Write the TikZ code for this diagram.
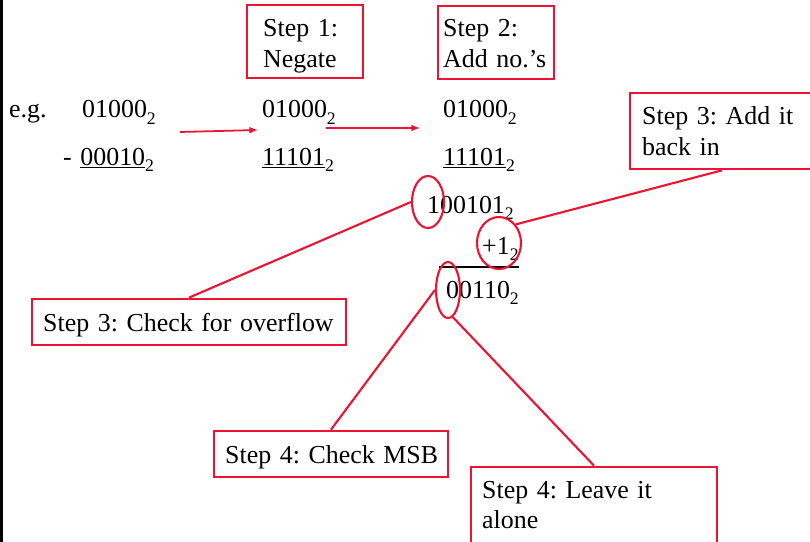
\documentclass[tikz,border=0pt]{standalone}
\usepackage{fontspec}
\setmainfont{Liberation Serif}
\usepackage{tikz}
\usetikzlibrary{arrows}
\usetikzlibrary{shapes.geometric}
\definecolor{stepred}{RGB}{235,20,50}
\frenchspacing

\tikzset{
  stepbox/.style={draw=stepred, line width=2.3pt, inner sep=0pt},
  ring/.style={ellipse, draw=stepred, line width=1.8pt, inner sep=0pt},
  leader/.style={draw=stepred, line width=1.8pt},
  txt/.style={anchor=base west, inner sep=0pt, align=left, text width=400pt,
    font=\fontsize{22}{26}\selectfont},
}
\newcommand{\bsub}[1]{\raisebox{-0.24em}{\fontsize{15}{15}\selectfont #1}}

\begin{document}
\begin{tikzpicture}[x=0.85pt, y=-0.85pt]
	\useasboundingbox (0,0) rectangle (810,542);
	\clip (0,0) rectangle (810,542);
	\fill[black] (0,0) rectangle (3,542);
	
	% the sum
	\node[txt] (eg) at (9,118) {e.g.};
	\node[txt] (a1) at (82,118) {01000\bsub{2}};
	\node[txt] (b1) at (63,165) {- \underline{00010}\bsub{2}};
	\node[txt] (a2) at (262,118) {01000\bsub{2}};
	\node[txt] (b2) at (262,165) {\underline{11101}\bsub{2}};
	\node[txt] (a3) at (443,118) {01000\bsub{2}};
	\node[txt] (b3) at (443,165) {\underline{11101}\bsub{2}};
	\node[txt] (s3) at (427,213) {100101\bsub{2}};
	\node[txt] (c3) at (482,254) {+1\bsub{2}};
	\node[txt] (r3) at (446,298) {00110\bsub{2}};
	\draw[line width=1.2pt] (439,267) -- (519,267);
	
	\coordinate (p1) at (180,132);
	\coordinate (p2) at (258,130);
	\coordinate (q1) at (326,128);
	\coordinate (q2) at (420,128);
	\draw[leader, line width=1.5pt, -latex] (p1) -- (p2);
	\draw[leader, line width=1.5pt, -latex] (q1) -- (q2);
	
	% steps
	\node[stepbox, minimum width=98.6pt, minimum height=62.05pt] (neg) at (305,41.5) {};
	\node[txt] (negt) at (263,37) {Step 1:\\Negate};
	\node[stepbox, minimum width=98.6pt, minimum height=62.05pt] (addn) at (496,42.5) {};
	\node[txt] (addnt) at (443,37) {Step 2:\\Add no.’s};
	\node[stepbox, minimum width=156.4pt, minimum height=64.6pt] (addback) at (722,131) {};
	\node[txt] (addbackt) at (642,125) {Step 3: Add it\\back in};
	\node[stepbox, minimum width=266.9pt, minimum height=39.1pt] (ovf) at (189,322) {};
	\node[txt] (ovft) at (43,331) {Step 3: Check for overflow};
	\node[stepbox, minimum width=198.9pt, minimum height=39.1pt] (msb) at (331,454) {};
	\node[txt] (msbt) at (225,463) {Step 4: Check MSB};
	\node[stepbox, minimum width=209.1pt, minimum height=74.8pt] (alone) at (594,511) {};
	\node[txt] (alonet) at (482,498) {Step 4: Leave it\\alone};
	
	% rings
	\node[ring, minimum width=27.2pt, minimum height=44.2pt] (one) at (428,202) {};
	\node[ring, minimum width=37.4pt, minimum height=44.2pt] (plus) at (499,243) {};
	\node[ring, minimum width=20.4pt, minimum height=47.6pt] (zero) at (448,290) {};
	
	\draw[leader] (ovf.north) -- (one.west);
	\draw[leader] (addback.south) -- (plus.48);
	\draw[leader] (msb.north) -- (zero.west);
	\draw[leader] (alone.north) -- (zero.-80);
\end{tikzpicture}
\end{document}
